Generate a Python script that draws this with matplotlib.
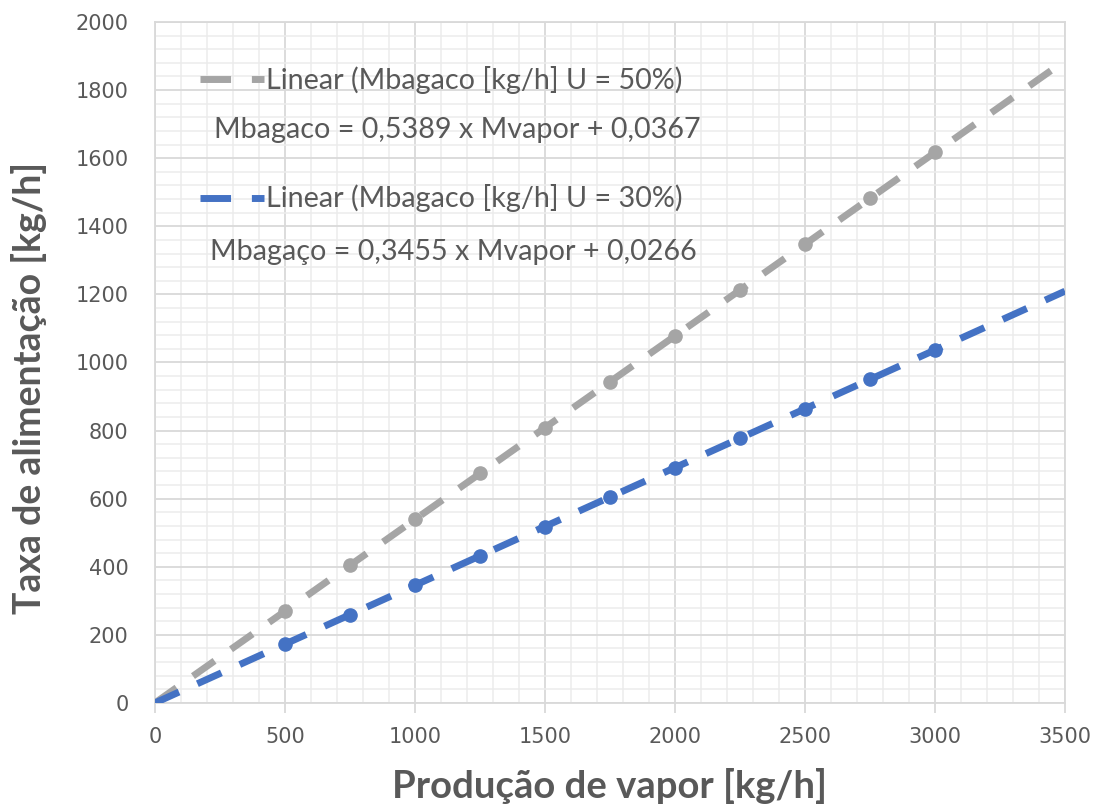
import numpy as np
import matplotlib
matplotlib.use("Agg")
import matplotlib.pyplot as plt
from matplotlib.ticker import MultipleLocator

# dados
producao_vapor = [500, 750, 1000, 1250, 1500, 1750, 2000, 2250, 2500, 2750, 3000]
bagaco_u50 = [270, 404, 539, 674, 808, 943, 1078, 1213, 1347, 1482, 1617]
bagaco_u30 = [173, 259, 346, 432, 518, 605, 691, 777, 864, 950, 1037]

legenda_u50 = "Linear (Mbagaco [kg/h] U = 50%)"
legenda_u30 = "Linear (Mbagaco [kg/h] U = 30%)"
equacao_u50 = "Mbagaco = 0,5389 x Mvapor + 0,0367"
equacao_u30 = "Mbagaço = 0,3455 x Mvapor + 0,0266"

cinza = "#a5a5a5"
azul = "#4472c4"
texto = "#595959"
tracos = (3.8, 2.9)

fig = plt.figure(figsize=(11.03, 8.08), dpi=100)
ax = fig.add_axes([0.1405, 0.13, 0.825, 0.8428])

# linhas de tendência (ajuste linear) + pontos
x_tend = np.array([0, 3500])
for y, cor in [(bagaco_u50, cinza), (bagaco_u30, azul)]:
    a, b = np.polyfit(producao_vapor, y, 1)
    ax.plot(x_tend, a * x_tend + b, color=cor, lw=5, dashes=tracos, zorder=3)
    ax.plot(producao_vapor, y, "o", color=cor, ms=9.5, zorder=4)

ax.set_xlim(0, 3500)
ax.set_ylim(0, 2000)
ax.xaxis.set_major_locator(MultipleLocator(500))
ax.xaxis.set_minor_locator(MultipleLocator(100))
ax.yaxis.set_major_locator(MultipleLocator(200))
ax.yaxis.set_minor_locator(MultipleLocator(40))
ax.grid(which="major", color="#d9d9d9", lw=1.3)
ax.grid(which="minor", color="#ececec", lw=1.1)
ax.set_axisbelow(True)
for s in ax.spines.values():
    s.set_color("#d9d9d9")
    s.set_linewidth(1.3)

ax.tick_params(axis="x", which="major", length=7, color="#d9d9d9", width=1.3,
               labelsize=15, labelcolor=texto, pad=10)
ax.tick_params(axis="y", which="major", length=0, labelsize=15, labelcolor=texto, pad=19)
ax.tick_params(which="minor", length=0)

ax.set_xlabel("Produção de vapor [kg/h]", fontsize=27.5, fontweight="bold", color=texto,
              family="Lato")
ax.set_ylabel("Taxa de alimentação [kg/h]", fontsize=27, fontweight="bold", color=texto,
              family="Lato")
ax.xaxis.set_label_coords(0.5, -0.095)
ax.yaxis.set_label_coords(-0.119, 0.4626)

# legenda desenhada à mão, no estilo do Excel
for yy, cor in [(0.916, cinza), (0.7416, azul)]:
    ax.plot([0.0495, 0.1198], [yy, yy], color=cor, lw=5, dashes=(4.4, 3.0),
            transform=ax.transAxes, clip_on=False, zorder=5)
ax.text(0.122, 0.9016, legenda_u50, transform=ax.transAxes, fontsize=20.7,
        family="Lato", color=texto, va="baseline")
ax.text(0.122, 0.7283, legenda_u30, transform=ax.transAxes, fontsize=20.7,
        family="Lato", color=texto, va="baseline")
ax.text(0.065, 0.8297, equacao_u50, transform=ax.transAxes, fontsize=20.7,
        family="Lato", color=texto, va="baseline")
ax.text(0.061, 0.6505, equacao_u30, transform=ax.transAxes, fontsize=20.7,
        family="Lato", color=texto, va="baseline")

fig.savefig("out.png", dpi=100)
